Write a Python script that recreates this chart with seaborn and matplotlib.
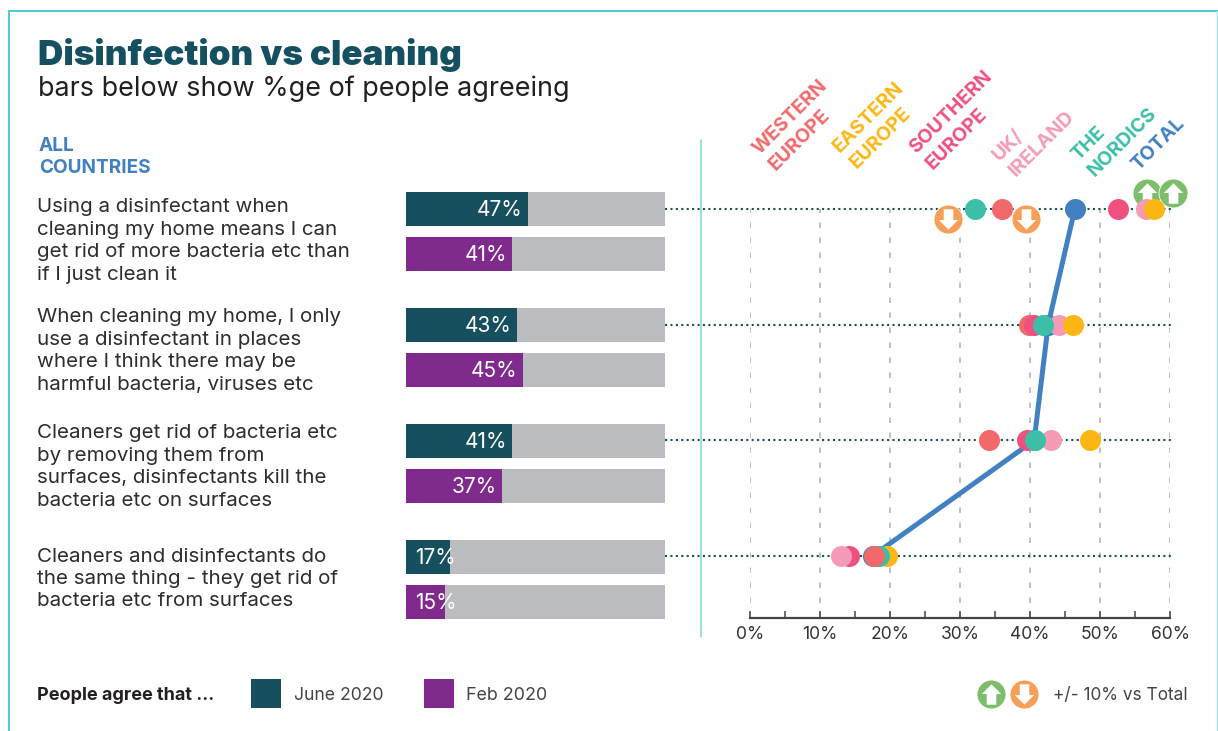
import pandas as pd
import seaborn as sns
import matplotlib.pyplot as plt
from matplotlib.patches import Rectangle
from matplotlib.path import Path

questions = [
    'Using a disinfectant when\ncleaning my home means I can\nget rid of more bacteria etc than\nif I just clean it',
    'When cleaning my home, I only\nuse a disinfectant in places\nwhere I think there may be\nharmful bacteria, viruses etc',
    'Cleaners get rid of bacteria etc\nby removing them from\nsurfaces, disinfectants kill the\nbacteria etc on surfaces',
    'Cleaners and disinfectants do\nthe same thing - they get rid of\nbacteria etc from surfaces',
]
june_2020 = [47, 43, 41, 17]
feb_2020 = [41, 45, 37, 15]

rows = [0, 1, 2, 3]
total = [46.4, 42.6, 40.6, 17.5]
western = [36.0, 39.9, 34.1, 17.7]
eastern = [57.7, 46.2, 48.5, 19.5]
southern = [52.5, 40.5, 39.5, 14.2]
uk_ireland = [56.6, 44.2, 43.0, 13.0]
nordics = [32.2, 41.8, 40.7, 18.4]

up_x = [56.7, 60.4]
up_y = [-0.14, -0.14]
down_x = [28.3, 39.4]
down_y = [0.09, 0.09]

region_names = ['TOTAL', 'WESTERN\nEUROPE', 'SOUTHERN\nEUROPE', 'UK/\nIRELAND', 'EASTERN\nEUROPE', 'THE\nNORDICS']
region_values = [total, western, southern, uk_ireland, eastern, nordics]
region_colors = ['#4181C2', '#F2696B', '#EF5080', '#F59BB5', '#FDB714', '#3BBFA7']
# row 4 stacks differently in the original
last_row_order = ['EASTERN\nEUROPE', 'THE\nNORDICS', 'TOTAL', 'WESTERN\nEUROPE', 'SOUTHERN\nEUROPE', 'UK/\nIRELAND']

colors = dict(zip(region_names, region_colors))
W, H = 1218, 731
DARK = '#16505F'
PURPLE = '#7F2A8C'
GREY = '#BBBCBF'
GREEN = '#7DBE6A'
ORANGE = '#F79E57'
TEXT = '#231F20'
FONT = 'Inter'

sns.set_theme(style='white')
plt.rcParams['font.family'] = [FONT, 'DejaVu Sans']

UP_ARROW = Path([(0, 1), (0.95, 0.05), (0.47, 0.05), (0.47, -1), (-0.47, -1), (-0.47, 0.05), (-0.95, 0.05), (0, 1), (0, 1)], closed=True)
DOWN_ARROW = Path([(0, -1), (0.95, -0.05), (0.47, -0.05), (0.47, 1), (-0.47, 1), (-0.47, -0.05), (-0.95, -0.05), (0, -1), (0, -1)], closed=True)


def axes_px(left, top, right, bottom):
    return fig.add_axes([left / W, 1 - bottom / H, (right - left) / W, (bottom - top) / H])


def badge(ax, xs, ys, color, arrow, z):
    sns.scatterplot(x=xs, y=ys, ax=ax, s=436, color=color, edgecolor='white', linewidth=0.6, zorder=z, clip_on=False, legend=False)
    sns.scatterplot(x=xs, y=ys, ax=ax, s=215, marker=arrow, color='white', linewidth=0, zorder=z + 0.01, clip_on=False, legend=False)


fig = plt.figure(figsize=(W / 100, H / 100), dpi=100)

# page layer in pixels
page = axes_px(0, 0, W, H)
page.set_xlim(0, W)
page.set_ylim(H, 0)
page.axis('off')
page.plot([8.5, 8.5], [10.5, 731], color='#3CC8CF', linewidth=1.3)
page.plot([8.5, 1218], [10.5, 10.5], color='#3CC8CF', linewidth=1.3)
page.plot([1217.3, 1217.3], [10.5, 731], color='#A8E2E6', linewidth=1.0)
page.plot([700.5, 700.5], [140, 637], color='#7FD5DD', linewidth=1.1)

page.text(38, 55, 'Disinfection vs cleaning', fontsize=25.2, fontweight='black', color='#14505F', va='center')
page.text(38, 89, 'bars below show %ge of people agreeing', fontsize=19.4, color=TEXT, va='center')
page.text(39, 157, 'ALL\nCOUNTRIES', fontsize=13.7, fontweight='bold', color='#4181C2', va='center', linespacing=1.33)

text_y = [241, 351, 467, 579]
for q, y in zip(questions, text_y):
    page.text(37, y, q, fontsize=14.8, color='#2E2C2D', va='center', linespacing=1.32)

# legend row
page.text(37, 696, 'People agree that ...', fontsize=13, fontweight='bold', color=TEXT, va='center')
page.add_patch(Rectangle((251, 679), 30, 29, color=DARK, linewidth=0))
page.text(294, 696, 'June 2020', fontsize=12.7, color='#444444', va='center')
page.add_patch(Rectangle((424, 679), 30, 29, color=PURPLE, linewidth=0))
page.text(466, 696, 'Feb 2020', fontsize=12.9, color='#444444', va='center')
page.text(1053, 696, '+/- 10% vs Total', fontsize=12.4, color='#444444', va='center')
badge(page, [991], [694], GREEN, UP_ARROW, 3)
badge(page, [1024], [694], ORANGE, DOWN_ARROW, 3)

# region headers, rotated
header_centers = {
    'WESTERN\nEUROPE': (798.5, 125), 'EASTERN\nEUROPE': (877, 125), 'SOUTHERN\nEUROPE': (959, 120),
    'UK/\nIRELAND': (1034, 136), 'THE\nNORDICS': (1114.5, 134), 'TOTAL': (1158, 143.5),
}
for name, (hx, hy) in header_centers.items():
    page.text(hx, hy, name, rotation=45, fontsize=14, fontweight='bold', color=colors[name],
              ha='center', va='center', multialignment='left', linespacing=1.36)

# bars on the left
bars = axes_px(406, 173.5, 665, 637.5)
bar_df = pd.DataFrame({
    'question': list(range(4)) * 2,
    'period': ['June 2020'] * 4 + ['Feb 2020'] * 4,
    'value': june_2020 + feb_2020,
    'full': [100] * 8,
})
bar_palette = {'June 2020': DARK, 'Feb 2020': PURPLE}
sns.barplot(data=bar_df, x='full', y='question', hue='period', orient='h', ax=bars, width=0.776, gap=0.244,
            palette={'June 2020': GREY, 'Feb 2020': GREY}, linewidth=0, legend=False, dodge=True, saturation=1)
sns.barplot(data=bar_df, x='value', y='question', hue='period', orient='h', ax=bars, width=0.776, gap=0.244,
            palette=bar_palette, linewidth=0, legend=False, dodge=True, saturation=1)
bars.set_xlim(0, 100)
bars.set_ylim(3.5, -0.5)
bars.axis('off')
for q in range(4):
    for val, off in ((june_2020[q], -0.187), (feb_2020[q], 0.201)):
        if val < 20:
            bars.text(3.5, q + off, f'{val}%', color='white', fontsize=15, va='center', ha='left')
        else:
            bars.text(val - 2.1, q + off, f'{val}%', color='white', fontsize=15, va='center', ha='right')

# dot plot on the right
dots = axes_px(750, 209, 1170, 618)
dots.set_xlim(0, 60)
dots.set_ylim(3.536, 0)
dots.set_facecolor('none')
dots.set_axisbelow(True)
dots.set_xticks(range(0, 61, 10))
dots.set_xticks(range(5, 60, 10), minor=True)
dots.set_xticklabels([f'{v}%' for v in range(0, 61, 10)], fontsize=12.6, color='#333333')
dots.set_yticks([])
dots.grid(axis='x', which='major', color='#B5B5B5', linewidth=1.2, linestyle=(0, (3.3, 5.7)))
dots.tick_params(axis='x', which='both', direction='in', length=5, width=1.1, color='#444444', bottom=True, pad=6)
sns.despine(ax=dots, left=True, top=True, right=True)
dots.spines['bottom'].set_color('#444444')
dots.spines['bottom'].set_linewidth(1.6)

dots.hlines(rows, -12.1, 60.1, color=DARK, linewidth=1.5, linestyle=(0, (1, 1.6)), zorder=1.5, clip_on=False)
badge(dots, up_x[:1], up_y[:1], GREEN, UP_ARROW, 2.2)
badge(dots, up_x[1:], up_y[1:], GREEN, UP_ARROW, 2.3)

sns.lineplot(x=total, y=rows, ax=dots, color=colors['TOTAL'], linewidth=3.6, sort=False, estimator=None, zorder=2.6, legend=False)

for r in rows:
    order = last_row_order if r == 3 else region_names
    for i, name in enumerate(order):
        val = region_values[region_names.index(name)][r]
        sns.scatterplot(x=[val], y=[r], ax=dots, s=229, color=colors[name], linewidth=0, zorder=3 + i * 0.1, clip_on=False, legend=False)

badge(dots, down_x, down_y, ORANGE, DOWN_ARROW, 5)
dots.set_xlabel('')
dots.set_ylabel('')

fig.savefig('out.png', dpi=100)
